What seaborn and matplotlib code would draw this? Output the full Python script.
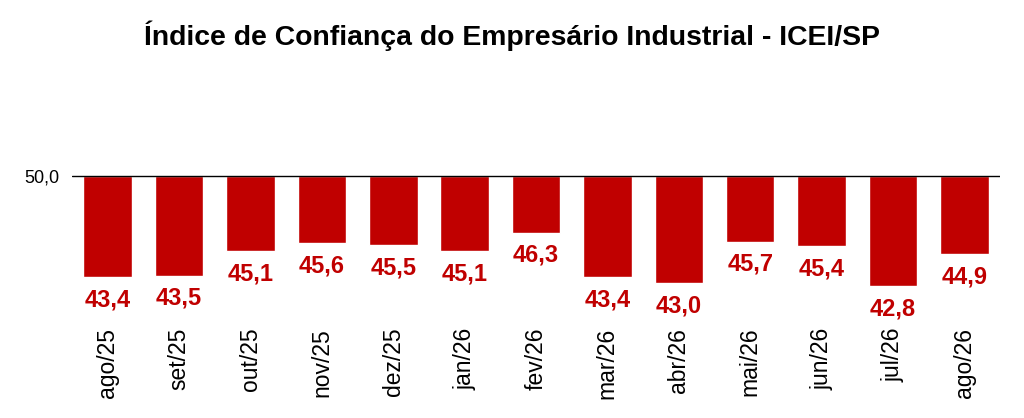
"""ICEI/SP bar chart: bars hanging down from the 50-point neutral line."""

import matplotlib
matplotlib.use("Agg")
import matplotlib.pyplot as plt
import matplotlib.ticker as mticker
import pandas as pd
import seaborn as sns

# ── data ──────────────────────────────────────────────────────────────────────
months = ["ago/25", "set/25", "out/25", "nov/25", "dez/25", "jan/26", "fev/26",
          "mar/26", "abr/26", "mai/26", "jun/26", "jul/26", "ago/26"]
icei   = [43.4, 43.5, 45.1, 45.6, 45.5, 45.1, 46.3,
          43.4, 43.0, 45.7, 45.4, 42.8, 44.9]
BASE   = 50.0

RED = "#C00000"

df = pd.DataFrame({"mes": months, "icei": icei})
df["delta"] = df["icei"] - BASE

# ── canvas ────────────────────────────────────────────────────────────────────
sns.set_theme(style="white")
plt.rcParams["font.family"] = ["Liberation Sans", "DejaVu Sans"]

fig = plt.figure(figsize=(10.24, 4.18), dpi=100, facecolor="white")
ax = fig.add_axes([0.0703, 0.249, 0.9063, 0.550])

sns.barplot(data=df, x="mes", y="delta", bottom=BASE, color=RED,
            saturation=1, width=0.68, ax=ax)

ax.axhline(BASE, color="black", linewidth=1.0, zorder=3)
ax.set_ylim(41, 56)
ax.set_xlim(-0.5, len(months) - 0.5)
ax.set_yticks([BASE])
ax.yaxis.set_major_formatter(
    mticker.FuncFormatter(lambda v, _: f"{v:.1f}".replace(".", ",")))
ax.tick_params(axis="y", length=0, pad=9, labelsize=13, colors="black")
ax.tick_params(axis="x", length=0, pad=10, labelsize=16.5, rotation=90,
               colors="black")
ax.set_xlabel("")
ax.set_ylabel("")
for spine in ax.spines.values():
    spine.set_visible(False)

# value labels under each bar
for i, v in enumerate(icei):
    ax.annotate(f"{v:.1f}".replace(".", ","), xy=(i, v), xytext=(0, -8),
                textcoords="offset points", ha="center", va="top",
                fontsize=17, fontweight="bold", color=RED)

fig.suptitle("Índice de Confiança do Empresário Industrial - ICEI/SP",
             fontsize=20.4, fontweight="bold", color="black", y=0.95)

fig.savefig("out.png", dpi=100, facecolor="white")
